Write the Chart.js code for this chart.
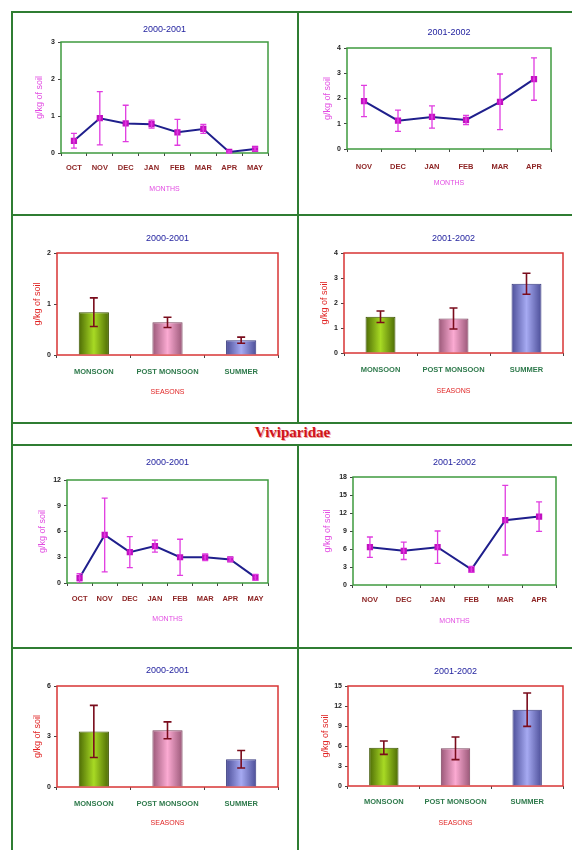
<!DOCTYPE html>
<html>
<head>
<meta charset="utf-8">
<script src="https://cdn.jsdelivr.net/npm/chart.js@4.4.1/dist/chart.umd.min.js"></script>
<style>
  body { margin: 0; background: #fff; }
  #page { position: relative; width: 572px; height: 850px; overflow: hidden; background: #fff; }
  .rule { position: absolute; background: #2f7d32; }
  canvas { position: absolute; }
  #family {
    position: absolute; left: 13px; top: 424px; width: 559px; height: 20px; line-height: 20px;
    text-align: center; font: bold 15px "Liberation Serif", "Times New Roman", serif;
    color: #d0141a; text-shadow: 1px 1px 0 #f3a3a3;
  }
</style>
</head>
<body>
<div id="page">
  <div class="rule" style="left:11px;top:11px;width:2px;height:839px"></div>
  <div class="rule" style="left:11px;top:11px;width:561px;height:2px"></div>
  <div class="rule" style="left:297px;top:11px;width:2px;height:412px"></div>
  <div class="rule" style="left:297px;top:445px;width:2px;height:405px"></div>
  <div class="rule" style="left:11px;top:214px;width:561px;height:2px"></div>
  <div class="rule" style="left:11px;top:422px;width:561px;height:2px"></div>
  <div class="rule" style="left:11px;top:444px;width:561px;height:2px"></div>
  <div class="rule" style="left:11px;top:647px;width:561px;height:2px"></div>
  <div id="family">Viviparidae</div>
  <canvas id="c1"></canvas>
  <canvas id="c2"></canvas>
  <canvas id="c3"></canvas>
  <canvas id="c4"></canvas>
  <canvas id="c5"></canvas>
  <canvas id="c6"></canvas>
  <canvas id="c7"></canvas>
  <canvas id="c8"></canvas>
</div>
<script>
// categories
const months0001 = ['OCT', 'NOV', 'DEC', 'JAN', 'FEB', 'MAR', 'APR', 'MAY'];
const months0102 = ['NOV', 'DEC', 'JAN', 'FEB', 'MAR', 'APR'];
const seasons = ['MONSOON', 'POST MONSOON', 'SUMMER'];

// upper family: monthly and seasonal means with their error bars
const upperMonth0001 = [0.33, 0.94, 0.80, 0.78, 0.56, 0.65, 0.03, 0.11];
const upperMonth0001Err = [0.20, 0.72, 0.49, 0.11, 0.35, 0.12, 0.03, 0.05];
const upperMonth0102 = [1.90, 1.12, 1.27, 1.15, 1.87, 2.77];
const upperMonth0102Err = [0.62, 0.42, 0.44, 0.18, 1.10, 0.84];
const upperSeason0001 = [0.84, 0.64, 0.29];
const upperSeason0001Err = [0.28, 0.10, 0.06];
const upperSeason0102 = [1.45, 1.38, 2.77];
const upperSeason0102Err = [0.23, 0.42, 0.42];

// Viviparidae
const vivMonth0001 = [0.60, 5.60, 3.60, 4.30, 3.00, 3.00, 2.75, 0.65];
const vivMonth0001Err = [0.50, 4.30, 1.80, 0.70, 2.10, 0.40, 0.20, 0.35];
const vivMonth0102 = [6.30, 5.70, 6.30, 2.60, 10.80, 11.40];
const vivMonth0102Err = [1.70, 1.45, 2.70, 0.50, 5.80, 2.45];
const vivSeason0001 = [3.30, 3.37, 1.65];
const vivSeason0001Err = [1.55, 0.50, 0.52];
const vivSeason0102 = [5.75, 5.65, 11.45];
const vivSeason0102Err = [1.00, 1.70, 2.50];

// y tick labels
const ticks1 = [0, 1, 2, 3];
const ticks2 = [0, 1, 2, 3, 4];
const ticks3 = [0, 1, 2];
const ticks4 = [0, 1, 2, 3, 4];
const ticks5 = [0, 3, 6, 9, 12];
const ticks6 = [0, 3, 6, 9, 12, 15, 18];
const ticks7 = [0, 3, 6];
const ticks8 = [0, 3, 6, 9, 12, 15];

const FONT = "'Liberation Sans', Arial, sans-serif";
Chart.defaults.font.family = FONT;

const BAR_PCT = 0.41;
const barEdge = ['#4d6b05', '#9a5878', '#4c4e98'];
const barMid = ['#a8da24', '#fbaad2', '#a6aaf2'];
const barLine = ['#3c5400', '#7d4560', '#3a3c80'];

// error bars drawn through the chart's own scales
const errorBars = {
  id: 'errorBars',
  afterDatasetsDraw(chart, args, opts) {
    if (!opts.errors) return;
    const { ctx, scales: { x, y } } = chart;
    const vals = chart.data.datasets[0].data;
    ctx.save();
    ctx.strokeStyle = opts.color;
    ctx.lineWidth = opts.width;
    opts.errors.forEach((e, i) => {
      const px = x.getPixelForValue(i);
      const top = y.getPixelForValue(vals[i] + e);
      const bot = y.getPixelForValue(Math.max(vals[i] - e, 0));
      ctx.beginPath();
      ctx.moveTo(px, top); ctx.lineTo(px, bot);
      ctx.moveTo(px - opts.cap, top); ctx.lineTo(px + opts.cap, top);
      ctx.moveTo(px - opts.cap, bot); ctx.lineTo(px + opts.cap, bot);
      ctx.stroke();
    });
    ctx.restore();
  }
};

// frame round the plot area
const plotFrame = {
  id: 'plotFrame',
  beforeDatasetsDraw(chart, args, opts) {
    const a = chart.chartArea;
    const ctx = chart.ctx;
    ctx.save();
    ctx.strokeStyle = opts.color;
    ctx.lineWidth = 1.5;
    ctx.strokeRect(a.left, a.top, a.right - a.left, a.bottom - a.top);
    ctx.restore();
  }
};
Chart.register(errorBars, plotFrame);

function barFill(context) {
  const chart = context.chart;
  const i = context.dataIndex;
  const x = chart.scales.x;
  if (!x || !chart.chartArea) return barMid[i];
  const cx = x.getPixelForValue(i);
  const half = x.width / chart.data.labels.length * BAR_PCT / 2;
  const g = chart.ctx.createLinearGradient(cx - half, 0, cx + half, 0);
  g.addColorStop(0, barEdge[i]);
  g.addColorStop(0.5, barMid[i]);
  g.addColorStop(1, barEdge[i]);
  return g;
}

function buildPanel(p) {
  const { cell, plot } = p.geo;
  const canvas = document.getElementById(p.id);
  canvas.style.left = cell.l + 'px';
  canvas.style.top = cell.t + 'px';
  canvas.width = cell.r - cell.l;
  canvas.height = cell.b - cell.t;

  const isLine = p.kind === 'line';
  const accent = isLine ? '#e24ce2' : '#e02424';
  const frameColor = isLine ? '#3f9a3f' : '#d83434';
  const titleLh = 9 * 1.2;
  const tickLh = 7.5 * 1.2;
  const axLh = 7 * 1.2;
  const yTitleLh = 9 * 1.2;
  const titleTop = p.geo.titleY - cell.t - titleLh / 2;
  const titleBottom = plot.t - cell.t - titleTop - titleLh;

  const dataset = isLine ? {
    data: p.values,
    borderColor: '#1f1f8c',
    borderWidth: 2,
    pointStyle: 'rect',
    pointRadius: 3,
    pointBackgroundColor: '#e020e0',
    pointBorderColor: '#c010c0',
    tension: 0
  } : {
    data: p.values,
    backgroundColor: barFill,
    borderColor: barLine,
    borderWidth: 1,
    barPercentage: BAR_PCT,
    categoryPercentage: 1
  };

  new Chart(canvas, {
    type: p.kind,
    data: { labels: p.labels, datasets: [dataset] },
    options: {
      responsive: false,
      animation: false,
      devicePixelRatio: 1,
      layout: { padding: { left: 0, top: 0, bottom: 0, right: cell.r - plot.r } },
      plugins: {
        legend: { display: false },
        tooltip: { enabled: false },
        title: {
          display: true,
          text: p.title,
          fullSize: false,
          color: '#2424a0',
          font: { size: 9, weight: 'normal' },
          padding: { top: titleTop, bottom: titleBottom }
        },
        errorBars: {
          errors: p.errors,
          color: isLine ? '#e03ce0' : '#7a0c1c',
          width: isLine ? 1.3 : 1.6,
          cap: isLine ? 3 : 4
        },
        plotFrame: { color: frameColor }
      },
      scales: {
        x: {
          type: 'category',
          offset: true,
          afterFit: s => { s.height = cell.b - plot.b; },
          border: { display: false },
          grid: { offset: true, drawOnChartArea: false, drawTicks: true, tickLength: 3, color: '#444' },
          ticks: {
            autoSkip: false,
            maxRotation: 0,
            color: isLine ? '#8e2626' : '#2f7a4c',
            font: { size: 7.5, weight: 'bold' },
            padding: p.geo.xLabY - plot.b - 3 - tickLh / 2
          },
          title: {
            display: true,
            text: p.xTitle,
            color: accent,
            font: { size: 7 },
            padding: { top: 0, bottom: cell.b - p.geo.xTitY - axLh / 2 }
          }
        },
        y: {
          min: p.ticks[0],
          max: p.ticks[p.ticks.length - 1],
          afterFit: s => { s.width = plot.l - cell.l; },
          border: { display: false },
          grid: { drawOnChartArea: false, drawTicks: true, tickLength: 3, color: '#444' },
          ticks: {
            stepSize: p.ticks[1] - p.ticks[0],
            color: '#222',
            font: { size: 7, weight: 'bold' },
            padding: 3
          },
          title: {
            display: true,
            text: 'g/kg of soil',
            color: accent,
            font: { size: 9 },
            padding: { top: p.geo.yTitX - cell.l - yTitleLh / 2, bottom: 0 }
          }
        }
      }
    }
  });
}

const panels = [
  { id: 'c1', kind: 'line', title: '2000-2001', xTitle: 'MONTHS', labels: months0001,
    values: upperMonth0001, errors: upperMonth0001Err, ticks: ticks1,
    geo: { cell: { l: 13, t: 13, r: 297, b: 214 }, plot: { l: 61, t: 42, r: 268, b: 153 }, titleY: 30, xLabY: 168, xTitY: 189, yTitX: 40 } },
  { id: 'c2', kind: 'line', title: '2001-2002', xTitle: 'MONTHS', labels: months0102,
    values: upperMonth0102, errors: upperMonth0102Err, ticks: ticks2,
    geo: { cell: { l: 299, t: 13, r: 572, b: 214 }, plot: { l: 347, t: 48, r: 551, b: 149 }, titleY: 33, xLabY: 167, xTitY: 183, yTitX: 328 } },
  { id: 'c3', kind: 'bar', title: '2000-2001', xTitle: 'SEASONS', labels: seasons,
    values: upperSeason0001, errors: upperSeason0001Err, ticks: ticks3,
    geo: { cell: { l: 13, t: 216, r: 297, b: 422 }, plot: { l: 57, t: 253, r: 278, b: 355 }, titleY: 239, xLabY: 372, xTitY: 392, yTitX: 38 } },
  { id: 'c4', kind: 'bar', title: '2001-2002', xTitle: 'SEASONS', labels: seasons,
    values: upperSeason0102, errors: upperSeason0102Err, ticks: ticks4,
    geo: { cell: { l: 299, t: 216, r: 572, b: 422 }, plot: { l: 344, t: 253, r: 563, b: 353 }, titleY: 239, xLabY: 370, xTitY: 391, yTitX: 325 } },
  { id: 'c5', kind: 'line', title: '2000-2001', xTitle: 'MONTHS', labels: months0001,
    values: vivMonth0001, errors: vivMonth0001Err, ticks: ticks5,
    geo: { cell: { l: 13, t: 446, r: 297, b: 647 }, plot: { l: 67, t: 480, r: 268, b: 583 }, titleY: 463, xLabY: 599, xTitY: 619, yTitX: 43 } },
  { id: 'c6', kind: 'line', title: '2001-2002', xTitle: 'MONTHS', labels: months0102,
    values: vivMonth0102, errors: vivMonth0102Err, ticks: ticks6,
    geo: { cell: { l: 299, t: 446, r: 572, b: 647 }, plot: { l: 353, t: 477, r: 556, b: 585 }, titleY: 463, xLabY: 600, xTitY: 621, yTitX: 328 } },
  { id: 'c7', kind: 'bar', title: '2000-2001', xTitle: 'SEASONS', labels: seasons,
    values: vivSeason0001, errors: vivSeason0001Err, ticks: ticks7,
    geo: { cell: { l: 13, t: 649, r: 297, b: 850 }, plot: { l: 57, t: 686, r: 278, b: 787 }, titleY: 671, xLabY: 804, xTitY: 823, yTitX: 38 } },
  { id: 'c8', kind: 'bar', title: '2001-2002', xTitle: 'SEASONS', labels: seasons,
    values: vivSeason0102, errors: vivSeason0102Err, ticks: ticks8,
    geo: { cell: { l: 299, t: 649, r: 572, b: 850 }, plot: { l: 348, t: 686, r: 563, b: 786 }, titleY: 672, xLabY: 802, xTitY: 823, yTitX: 326 } }
];

panels.forEach(buildPanel);
</script>
</body>
</html>
